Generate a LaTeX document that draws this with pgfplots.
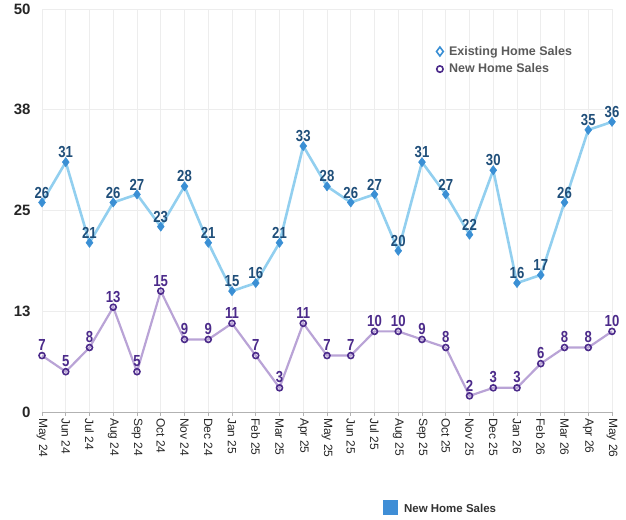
\documentclass[border=0pt]{standalone}
\usepackage{fontspec}
\setmainfont{Liberation Sans}
\newfontfamily\cond[FakeStretch=0.82]{Liberation Sans}
\usepackage{pgfplots}
\pgfplotsset{compat=1.18}
\pgfplotsset{markonly/.style={legend image code/.code={\path (0cm,0cm) (0.5cm,0cm); \draw[##1] plot coordinates {(0.25cm,0cm)};}}}

\definecolor{exline}{HTML}{92CFEF}
\definecolor{exmark}{HTML}{3A8FD4}
\definecolor{exlab}{HTML}{1F4E79}
\definecolor{nwline}{HTML}{B9A3D6}
\definecolor{nwmark}{HTML}{4B2A8A}
\definecolor{gridc}{HTML}{EDEDED}
\definecolor{legtext}{HTML}{5A5A5A}
\definecolor{sq}{HTML}{3F8ED6}

\begin{document}
\begin{tikzpicture}
\begin{axis}[
  scale only axis, width=570pt, height=403pt,
  xmin=0, xmax=24, ymin=0, ymax=50,
  clip=false,
  axis x line*=bottom, axis y line*=left,
  x axis line style={draw=black!30, line width=0.8pt},
  y axis line style={draw=none},
  xtick={0,...,24},
  xticklabels={May 24,Jun 24,Jul 24,Aug 24,Sep 24,Oct 24,Nov 24,Dec 24,Jan 25,Feb 25,Mar 25,Apr 25,May 25,Jun 25,Jul 25,Aug 25,Sep 25,Oct 25,Nov 25,Dec 25,Jan 26,Feb 26,Mar 26,Apr 26,May 26},
  ytick={0,12.5,25,37.5,50},
  yticklabels={0,13,25,38,50},
  tick align=outside, major tick length=4pt,
  xtick style={draw=black!30, line width=0.6pt},
  ytick style={draw=none},
  grid=major, major grid style={draw=gridc, line width=0.8pt},
  xticklabel style={rotate=-90, anchor=west, font=\fontsize{12}{12}\selectfont, text=black!85, inner sep=2pt},
  yticklabel style={font=\bfseries\fontsize{15}{15}\selectfont, text=black!85, xshift=-4pt},
  /pgf/number format/assume math mode=true,
  nodes near coords,
  every node near coord/.append style={font=\cond\bfseries\fontsize{16}{16}\selectfont, anchor=south, inner sep=1pt, yshift=3pt},
  legend style={at={(rel axis cs:0.68,0.918)}, anchor=north west, draw=none, fill=none,
    font=\bfseries\fontsize{12.5}{14}\selectfont, text=legtext, row sep=3pt},
  legend cell align=left,
]
\addplot[forget plot, exline, line width=2.6pt, mark=diamond*, mark size=4.6pt,
  mark options={draw=exmark, fill=exmark, line width=0.5pt},
  every node near coord/.append style={text=exlab}] coordinates {
(0,26) (1,31) (2,21) (3,26) (4,27) (5,23) (6,28) (7,21) (8,15) (9,16) (10,21) (11,33)
(12,28) (13,26) (14,27) (15,20) (16,31) (17,27) (18,22) (19,30) (20,16) (21,17) (22,26) (23,35) (24,36)};
\addplot[forget plot, nwline, line width=2.2pt, mark=o, mark size=3pt,
  mark options={draw=nwmark, fill=white, line width=1.6pt},
  every node near coord/.append style={text=nwmark}] coordinates {
(0,7) (1,5) (2,8) (3,13) (4,5) (5,15) (6,9) (7,9) (8,11) (9,7) (10,3) (11,11)
(12,7) (13,7) (14,10) (15,10) (16,9) (17,8) (18,2) (19,3) (20,3) (21,6) (22,8) (23,8) (24,10)};
\addlegendimage{markonly, draw=none, mark=diamond, mark size=4.5pt, mark options={draw=exmark, line width=1.6pt, fill=white}}
\addlegendentry{Existing Home Sales}
\addlegendimage{markonly, draw=none, mark=o, mark size=3.2pt, mark options={draw=nwmark, line width=1.6pt, fill=white}}
\addlegendentry{New Home Sales}
\node[anchor=west, inner sep=0pt, font=\bfseries\fontsize{11.5}{13}\selectfont, text=black!80]
  at ([yshift=-95pt]rel axis cs:0.598,0) {\textcolor{sq}{\raisebox{-2.5pt}{\rule{15pt}{15pt}}}\hspace{6pt}New Home Sales};
\coordinate (sw) at (rel axis cs:0,0);
\coordinate (ne) at (rel axis cs:1,1);
\end{axis}
\path (sw) +(-42pt,-107pt) (ne) +(14pt,9pt);
\end{tikzpicture}
\end{document}
